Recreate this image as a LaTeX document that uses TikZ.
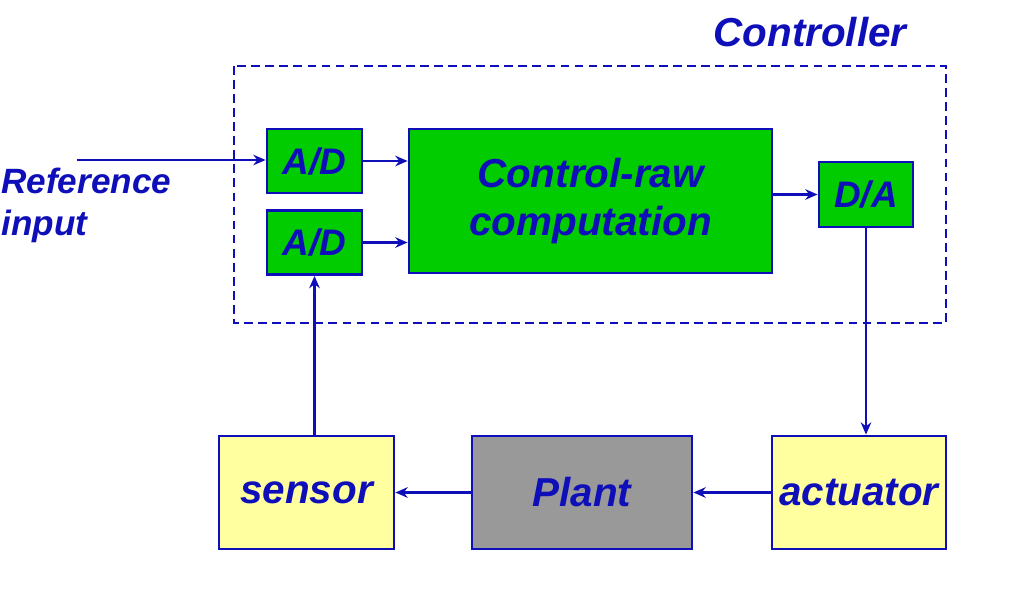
\documentclass[tikz,border=0pt]{standalone}
\usepackage{fontspec}
\setmainfont{Liberation Sans}
\usepackage{xcolor}
\usetikzlibrary{arrows.meta, positioning}
\definecolor{ctrlblue}{RGB}{15,15,185}
\definecolor{boxgreen}{RGB}{0,204,0}
\definecolor{boxyellow}{RGB}{255,255,160}
\definecolor{boxgray}{RGB}{153,153,153}

\begin{document}
\begin{tikzpicture}[
  % --- Box styles ---
  basebox/.style={
    rectangle, draw=ctrlblue, line width=1.6pt,
    align=center, inner sep=2pt,
    font=\bfseries\itshape\fontsize{23}{27}\selectfont, text=ctrlblue
  },
  convbox/.style={basebox, fill=boxgreen,
    minimum width=1.9cm, minimum height=1.28cm,
    font=\bfseries\itshape\fontsize{21}{25}\selectfont},
  compbox/.style={basebox, fill=boxgreen,
    minimum width=7.26cm, minimum height=2.88cm},
  devbox/.style={basebox, fill=boxyellow,
    minimum width=3.48cm, minimum height=2.26cm},
  plantbox/.style={basebox, fill=boxgray,
    minimum width=4.4cm, minimum height=2.26cm},
  % --- Arrows ---
  flow/.style={-{Stealth[length=7pt,width=6pt]}, line width=1.2pt, color=ctrlblue},
  % --- Labels ---
  lbl/.style={font=\bfseries\itshape\fontsize{20}{24}\selectfont, text=ctrlblue},
]
\useasboundingbox (0,0) rectangle (20.48,-11.82);

% ===================== CONTROLLER =====================
\draw[ctrlblue, line width=1.6pt, dash pattern=on 5pt off 3pt]
  (4.68,-1.32) rectangle (18.92,-6.46);
\node[lbl, font=\bfseries\itshape\fontsize{23}{27}\selectfont] (ctrl) at (16.2,-0.64) {Controller};

\node[convbox] (adtop) at (6.29,-3.22) {A/D};
\node[convbox] (adbot) at (6.29,-4.85) {A/D};
\node[compbox] (comp) at (11.81,-4.02) {Control-raw\\computation};
\node[convbox, minimum width=1.88cm, minimum height=1.3cm] (da) at (17.32,-3.89) {D/A};

% ===================== LOOP =====================
\node[devbox, minimum width=3.5cm] (sensor) at (6.13,-9.85) {sensor};
\node[plantbox] (plant) at (11.64,-9.85) {Plant};
\node[devbox] (act) at (17.18,-9.85) {actuator};

% ===================== INPUT =====================
\node[lbl, align=left, anchor=west, inner sep=0pt] (refin) at (0.02,-4.1)
  {Reference\\input};
\coordinate (refstart) at (1.54,-3.2);

% ================ ARROWS ================
\draw[flow] (refstart) -- (refstart -| adtop.west);
\draw[flow] (adtop.east) -- (adtop.east -| comp.west);
\draw[flow] (adbot.east) -- (adbot.east -| comp.west);
\draw[flow] (comp.east |- da.west) -- (da.west);
\draw[flow] (da.south) -- (da.south |- act.north);
\draw[flow] (act.west) -- (plant.east);
\draw[flow] (plant.west) -- (sensor.east);
\draw[flow] (adbot.south |- sensor.north) -- (adbot.south);

\end{tikzpicture}
\end{document}
